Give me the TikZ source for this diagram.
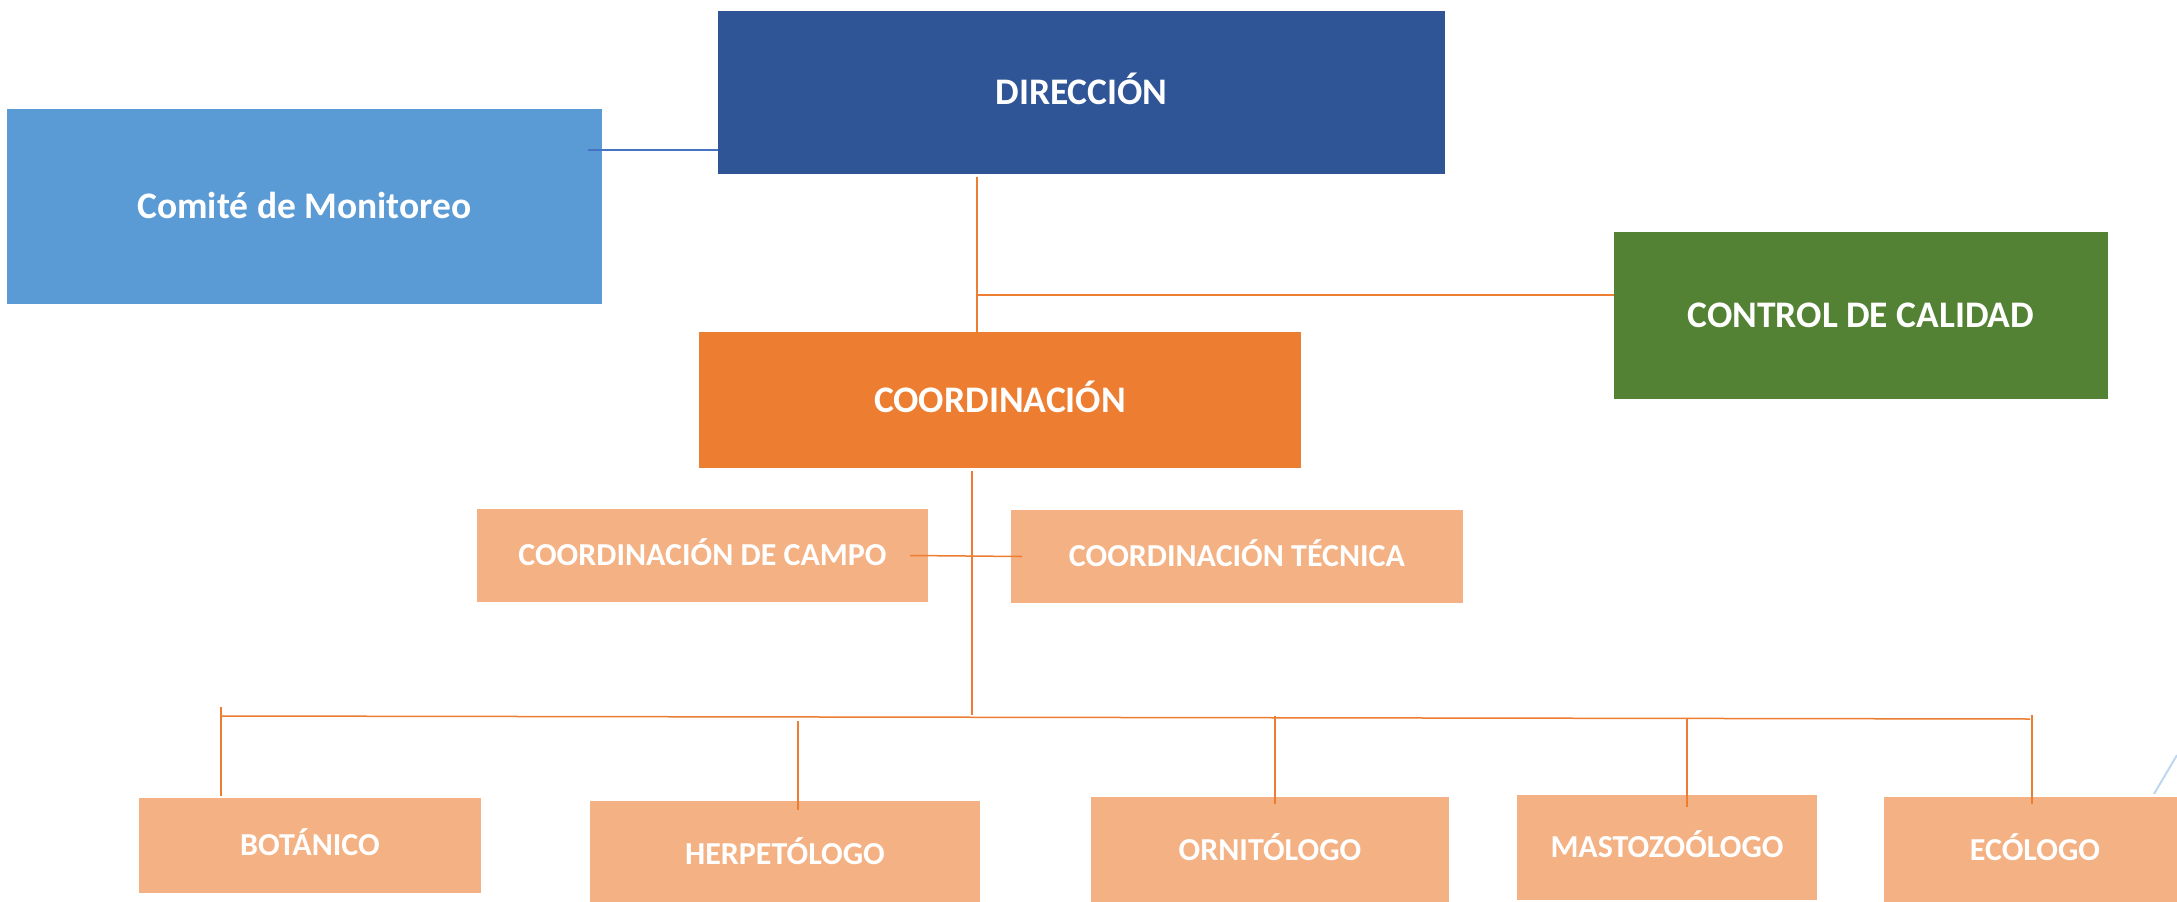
\documentclass[tikz,border=0pt]{standalone}
\usepackage{fontspec}
\setmainfont{Carlito}
\definecolor{cdir}{HTML}{2F5597}
\definecolor{ccom}{HTML}{5B9BD5}
\definecolor{ccal}{HTML}{548235}
\definecolor{ccoo}{HTML}{ED7D31}
\definecolor{clite}{HTML}{F4B183}
\definecolor{cblue}{HTML}{4472C4}
\definecolor{csky}{HTML}{BDD7EE}
\tikzset{
  box/.style={rectangle, inner sep=0pt, text=white, font=\bfseries\fontsize{37.5}{40}\selectfont, text height=24pt, text depth=0pt},
  smallbox/.style={box, fill=clite, font=\bfseries\fontsize{32}{36}\selectfont, text height=20.5pt, text depth=0pt},
  oline/.style={draw=ccoo, line width=1.5pt},
  bline/.style={draw=cblue, line width=1.5pt},
}
\begin{document}
\begin{tikzpicture}[x=1pt,y=-1pt]
\useasboundingbox (0,0) rectangle (2177,902);
% main boxes
\node[box, fill=cdir, minimum width=727pt, minimum height=163pt] (dir) at (1081.5,92.5) {DIRECCIÓN};
\node[box, fill=ccom, minimum width=595pt, minimum height=195pt] (com) at (304.5,206.5) {Comité de Monitoreo};
\node[box, fill=ccal, minimum width=494pt, minimum height=167pt] (cal) at (1861,315.5) {CONTROL DE CALIDAD};
\node[box, fill=ccoo, minimum width=602pt, minimum height=136pt] (coo) at (1000,400) {COORDINACIÓN};
\node[smallbox, minimum width=451pt, minimum height=93pt] (campo) at (702.5,555.5) {COORDINACIÓN DE CAMPO};
\node[smallbox, minimum width=452pt, minimum height=93pt] (tec) at (1237,556.5) {COORDINACIÓN TÉCNICA};
% bottom boxes
\node[smallbox, minimum width=342pt, minimum height=95pt] (bot) at (310,845.5) {BOTÁNICO};
\node[smallbox, minimum width=390pt, minimum height=106pt] (her) at (785,854) {HERPETÓLOGO};
\node[smallbox, minimum width=358pt, minimum height=106pt] (orn) at (1270,850) {ORNITÓLOGO};
\node[smallbox, minimum width=300pt, minimum height=105pt] (mas) at (1667,847.5) {MASTOZOÓLOGO};
\node[smallbox, minimum width=302pt, minimum height=106pt] (eco) at (2035,850) {ECÓLOGO};
% coordinates
\coordinate (j1) at (977,295);
\coordinate (j2) at (972,715);
\coordinate (busl) at (221,716);
\coordinate (busr) at (2030,719);
\coordinate (skyA) at (2177,755);
\coordinate (skyB) at (2154,794);
% connectors
\draw[bline] ([xshift=-14pt,yshift=24pt]com.east |- dir.south) -- ([yshift=24pt]dir.south west);
\draw[oline] ([yshift=-3pt]dir.south -| j1) -- (coo.north -| j1);
\draw[oline] (j1) -- (j1 -| cal.west);
\draw[oline] ([yshift=-3pt]coo.south -| j2) -- (j2);
\draw[oline] ([xshift=-18pt]campo.east) -- ([xshift=11pt]tec.west);
\draw[oline] (busl) -- (busr);
\draw[oline] (221,707) -- ([yshift=2pt]bot.north -| 221,0);
\draw[oline] (798,721) -- ([yshift=-9pt]her.north -| 798,0);
\draw[oline] (1275,716) -- ([yshift=-7pt]orn.north -| 1275,0);
\draw[oline] (1687,719) -- ([yshift=-12pt]mas.north -| 1687,0);
\draw[oline] (2032,715) -- ([yshift=-7pt]eco.north -| 2032,0);
\draw[draw=csky, line width=2pt] (skyA) -- (skyB);
\end{tikzpicture}
\end{document}
